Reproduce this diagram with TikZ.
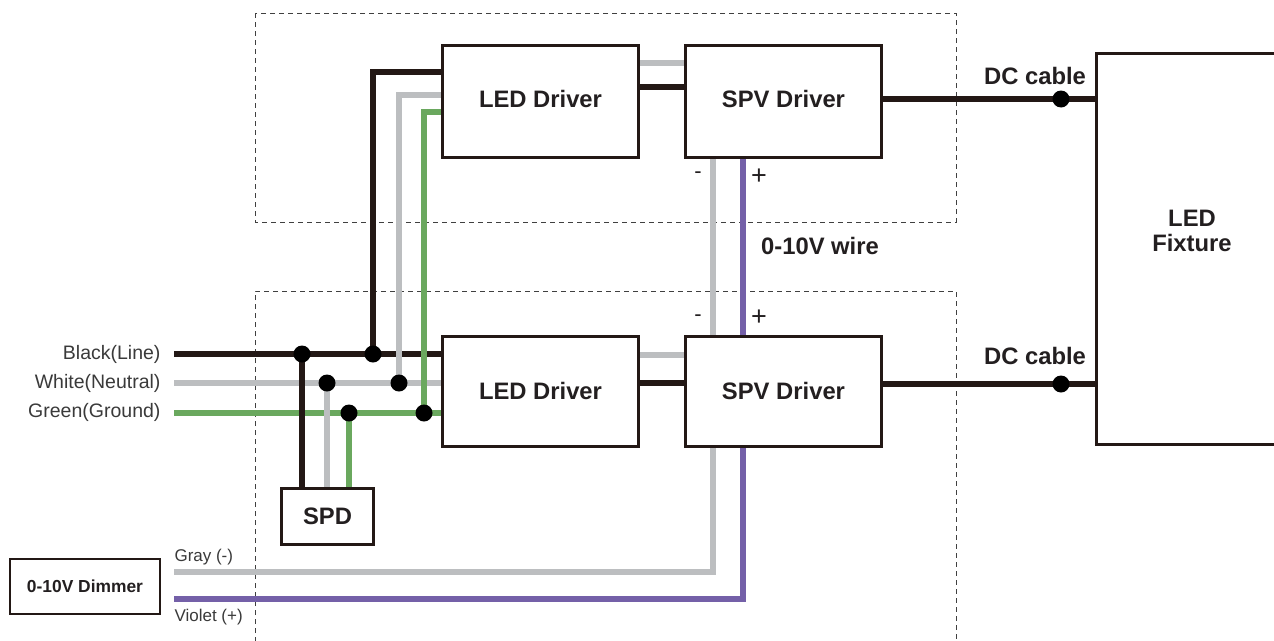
\documentclass[tikz,border=0pt]{standalone}
\usepackage{fontspec}
\setmainfont{Liberation Sans}
\definecolor{wblack}{HTML}{231815}
\definecolor{wgray}{HTML}{BCBEC0}
\definecolor{wgreen}{HTML}{6AA85E}
\definecolor{wviolet}{HTML}{7460A8}
\definecolor{txt}{HTML}{231F20}
\definecolor{lbl}{HTML}{3A3A3A}
\begin{document}
\begin{tikzpicture}[x=1pt,y=-1pt,
  box/.style={draw=wblack,line width=2pt,fill=white,inner sep=0pt,
    font=\fontsize{23.8}{25}\selectfont\bfseries,text=txt},
  blk/.style={draw=wblack,line width=6.5pt},
  gry/.style={draw=wgray,line width=6pt},
  grn/.style={draw=wgreen,line width=6pt},
  vio/.style={draw=wviolet,line width=6pt},
  dashbox/.style={draw=black!75,line width=0.8pt,dash pattern=on 5pt off 4pt},
  lab/.style={font=\fontsize{19.5}{22}\selectfont,text=lbl},
  pm/.style={font=\fontsize{22}{24}\selectfont,text=txt},
  plus/.style={font=\fontsize{27}{28}\selectfont,text=txt},
  slab/.style={font=\fontsize{17}{19}\selectfont,text=lbl},
  blab/.style={font=\fontsize{23.8}{25}\selectfont\bfseries,text=txt},
  dot/.style={fill=black}]
\useasboundingbox (0,0) rectangle (1274,640);
\fill[white] (0,0) rectangle (1274,640);
% dashed regions
\draw[dashbox] (255,13) rectangle (956,222);
\draw[dashbox] (255,660) -- (255,291) -- (956,291) -- (956,660);
% boxes
\node[box,minimum width=195pt,minimum height=111pt] (led1) at (540.5,101.5) {\raisebox{6pt}{LED Driver}};
\node[box,minimum width=195pt,minimum height=111pt] (spv1) at (783.5,101.5) {\raisebox{6pt}{SPV Driver}};
\node[box,minimum width=195pt,minimum height=109pt] (led2) at (540.5,391.5) {\raisebox{1pt}{LED Driver}};
\node[box,minimum width=195pt,minimum height=109pt] (spv2) at (783.5,391.5) {\raisebox{1pt}{SPV Driver}};
\node[box,minimum width=91pt,minimum height=55pt] (spd) at (327.5,516.5) {SPD};
\node[box,minimum width=150pt,minimum height=55pt,font=\fontsize{17.4}{20}\selectfont\bfseries] (dim) at (85,586.5) {0-10V Dimmer};
\node[box,minimum width=190pt,minimum height=390pt] (fix) at (1192,249) {};
\node[blab,align=center] (fixlbl) at (1192,231) {LED\\Fixture};
% free ends and junctions
\coordinate (bL) at (174,354);
\coordinate (wL) at (174,383);
\coordinate (gL) at (174,413);
\coordinate (j1) at (302,354);
\coordinate (j2) at (327,383);
\coordinate (j3) at (349,413);
\coordinate (j4) at (373,354);
\coordinate (j5) at (399,383);
\coordinate (j6) at (424,413);
\coordinate (gE) at (174,572);
\coordinate (vE) at (174,599);
\coordinate (d1) at (1061,99);
\coordinate (d2) at (1061,384);
% wires
\draw[blk] (bL) -- (bL -| led2.west);
\draw[gry] (wL) -- (wL -| led2.west);
\draw[grn] (gL) -- (gL -| led2.west);
\draw[blk] (j1) -- (j1 |- spd.north);
\draw[gry] (j2) -- (j2 |- spd.north);
\draw[grn] (j3) -- (j3 |- spd.north);
\draw[blk] (j4) |- (led1.west |- 0,72);
\draw[gry] (j5) |- (led1.west |- 0,95);
\draw[grn] (j6) |- (led1.west |- 0,112);
\draw[gry] (led1.east |- 0,63) -- (spv1.west |- 0,63);
\draw[blk] (led1.east |- 0,87) -- (spv1.west |- 0,87);
\draw[gry] (led2.east |- 0,355) -- (spv2.west |- 0,355);
\draw[blk] (led2.east |- 0,383) -- (spv2.west |- 0,383);
\draw[gry] (713,0 |- spv1.south) -- (713,0 |- spv2.north);
\draw[vio] (743,0 |- spv1.south) -- (743,0 |- spv2.north);
\draw[gry] (713,0 |- spv2.south) |- (gE);
\draw[vio] (743,0 |- spv2.south) |- (vE);
\draw[blk] (spv1.east |- d1) -- (fix.west |- d1);
\draw[blk] (spv2.east |- d2) -- (fix.west |- d2);
% redraw box outlines on top
\foreach \n in {led1,spv1,led2,spv2,spd,fix}
  \draw[wblack,line width=2pt] (\n.north west) rectangle (\n.south east);
% dots
\foreach \p in {j1,j2,j3,j4,j5,j6,d1,d2}
  \fill[dot] (\p) circle[radius=8.5];
% labels
\node[lab,anchor=east] (tb) at (164,354) {Black(Line)};
\node[lab,anchor=east] (tw) at (164,383) {White(Neutral)};
\node[lab,anchor=east] (tg) at (164,412) {Green(Ground)};
\node[slab,anchor=west] (tgy) at (171,557) {Gray (-)};
\node[slab,anchor=west] (tvi) at (171,617) {Violet (+)};
\node[pm] (m1) at (698,175) {-};
\node[plus] (p1) at (759,177) {+};
\node[pm] (m2) at (698,318) {-};
\node[plus] (p2) at (759,318) {+};
\node[blab] (w010) at (820,246) {0-10V wire};
\node[blab] (dc1) at (1035,76) {DC cable};
\node[blab] (dc2) at (1035,356) {DC cable};
\end{tikzpicture}
\end{document}
